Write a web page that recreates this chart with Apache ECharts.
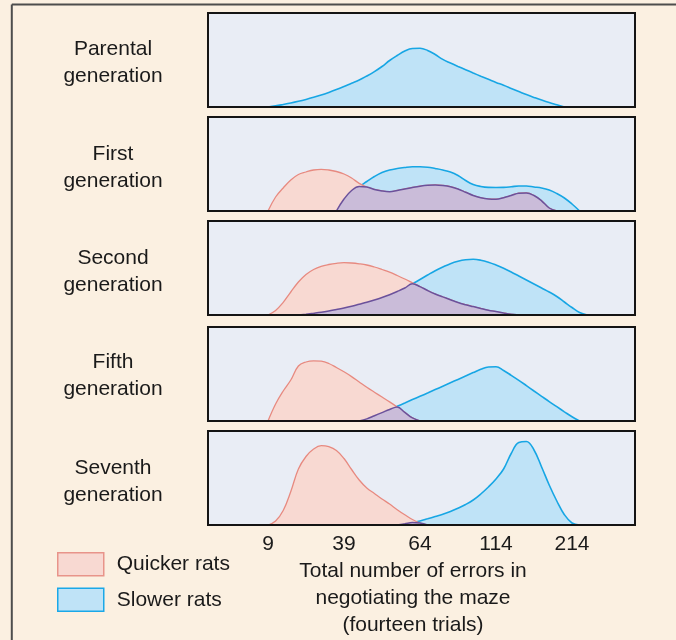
<!DOCTYPE html>
<html><head><meta charset="utf-8">
<script src="https://cdn.jsdelivr.net/npm/echarts@6/dist/echarts.min.js"></script>
<style>html,body{margin:0;padding:0;background:#fbf0e1;}#c{width:676px;height:640px;}</style>
</head><body><div id="c"></div>
<script>
const _ = null;
// x-axis tick labels (total errors) and their positions on the (non-linear) axis scale
const tickLabels = ['9', '39', '64', '114', '214'];
const tickPos = [0, 1, 2, 3, 4];
// sample positions along the error scale (in tick-index units)
const samplePos = [0,0.1,0.2,0.3,0.4,0.5,0.6,0.7,0.8,0.9,1.0,1.1,1.2,1.3,1.4,1.5,1.6,1.7,1.8,1.9,2.0,2.1,2.2,2.3,2.4,2.5,2.6,2.7,2.8,2.9,3.0,3.1,3.2,3.3,3.4,3.5,3.6,3.7,3.8,3.9,4.0,4.1,4.2];
const generationLabels = ['Parental\ngeneration', 'First\ngeneration', 'Second\ngeneration', 'Fifth\ngeneration', 'Seventh\ngeneration'];
const seriesNames = ['Quicker rats', 'Slower rats'];
const axisTitle = 'Total number of errors in\nnegotiating the maze\n(fourteen trials)';

// relative frequencies
const parentalSlower = [0,1.1,2.5,4,5.7,7.6,9.7,12,14.6,17.4, 20.5,23.8,27,31,35.4,40.5,46.5,51.5,56,58.5, 58.7,56.6,52.5,47.6,44,40.6,37.3,34,30.8,27.7, 24.6,21.7,18.6,15.5,12.4,9.6,6.9,4.4,2.2,0, _,_,_];
const firstQuicker = [0,14,23,31,36.5,39,41,41.7,41,39.5, 37,33,27.6,24,21.5,20,19.3,20.5,22,23.5, 24.8,25.7,26,25.5,24.3,22,18.8,15.5,13.2,12, 11.8,13.3,15.5,17.8,18,15.5,10.2,3,0,_, _,_,_];
const firstSlower = [_,_,_,_,_,_,_,_,_, 0,12,20.5,24.5,29.5,34.5,38.5,41,42.5,43.5, 44.2,44.3,43.8,42.5,41,39,35.5,30.5,26.5,24.5, 23.6,23.5,23.6,24.2,25,25,24,23,21,17.5, 13,7,0,_];
const secondQuicker = [0,4.5,12.6,23,33,40.5,45.5,48.7,50.5,51.7, 52.3,52,51.2,50,48,45.5,42.8,39.5,36,32.2, 28.4,24.5,21,18.1,15.3,12.5,10.3,8.4,6.5,4.7, 3.4,2,0.7,0, _,_,_,_,_,_,_,_,_];
const secondSlower = [_,_,_,_, 0,0.8,1.7,2.7,4,5.5, 7,8.7,10.7,12.7,15,17.5,20.3,23.5,27,31.2, 35.5,40,44.3,48,51.3,53.7,55.2,55.7,54.8,52.8, 50,46.7,43,39,35,31,27,23,18.5,13, 7.5,2.5,0];
const fifthQuicker = [0,17,30,41,55,59,60.2,59.8,57.5,53.5, 49.2,44.4,39,33.7,28.8,24,19.1,14,8.6,3.1, 0, _,_,_,_,_,_,_,_,_,_,_,_,_,_,_,_,_,_,_,_,_,_];
const fifthSlower = [_,_,_,_,_,_,_,_,_,_,_,_, 0,2.1,5.3,8.4,11.5,14.7,18,21.4,24.7,28, 31.4,34.8,38.2,41.6,45,48.4,51.7,54,54.2,50.5, 45.7,40.7,35.4,30,24.7,19.4,14.3,9.2,4.2,0, _];
const seventhQuicker = [0,4,14.5,33.5,56,68.5,76,79.3,78.3,74.5, 66.5,55.5,45,37,31.5,26,21,15.3,10.2,5.5, 2,0,_, _,_,_,_,_,_,_,_,_,_,_,_,_,_,_,_,_,_,_,_];
const seventhSlower = [_,_,_,_,_,_,_,_,_,_,_,_,_,_,_,_,_, 0,1.2,2.5, 4,6.2,8.5,10.8,13.5,16.8,20.5,25,31,38, 46,56,71.5,82.5,83.5,75,58,40,24,10.3, 2,0,_];

const quickerByPanel = [_, firstQuicker, secondQuicker, fifthQuicker, seventhQuicker];
const slowerByPanel = [parentalSlower, firstSlower, secondSlower, fifthSlower, seventhSlower];

const FONT = '"Liberation Sans", Arial, Helvetica, sans-serif';
const TEXT = '#1a1a1a';
const COL = {
  qFill: '#f8d9d2', qLine: '#e78a80',
  sFill: '#bfe3f7', sLine: '#17a6e4',
  oFill: '#cabcd9', oLine: '#6b519b'
};
const tops = [13, 117, 221, 327, 431];
const labelCenters = [62.8, 167.5, 271.5, 375.5, 481.5];

function toPairs(vals) {
  return samplePos.map((x, i) => [x, vals[i]]).filter(d => d[1] !== null && d[1] !== undefined);
}
function overlapOf(a, b) {
  return a.map((v, i) => (v === null || b[i] === null) ? null : Math.min(v, b[i]));
}

const grid = [], xAxis = [], yAxis = [], series = [];
tops.forEach((t, i) => {
  grid.push({left: 208, right: 41, top: t, height: 94, show: true,
    backgroundColor: '#e9edf5', borderColor: '#141414', borderWidth: 2});
  xAxis.push({gridIndex: i, type: 'value', min: -60 / 76, max: 4 + 63 / 76, z: 10,
    splitLine: {show: false}, axisTick: {show: false},
    axisLine: {show: true, onZero: false, lineStyle: {color: '#141414', width: 2}},
    axisLabel: {show: i === 4, customValues: tickPos,
      formatter: v => { const k = tickPos.indexOf(Math.round(v)); return k >= 0 ? tickLabels[k] : ''; },
      fontSize: 21, color: TEXT, fontFamily: FONT, margin: 9}});
  yAxis.push({gridIndex: i, type: 'value', min: 0, max: 94, show: false});
  const common = {type: 'line', xAxisIndex: i, yAxisIndex: i, smooth: 0.4, symbol: 'none',
    showSymbol: false, silent: true, animation: false};
  const s = slowerByPanel[i], q = quickerByPanel[i];
  if (s) series.push(Object.assign({}, common, {name: seriesNames[1], data: toPairs(s),
    lineStyle: {color: COL.sLine, width: 1.6}, itemStyle: {color: COL.sFill},
    areaStyle: {color: COL.sFill, opacity: 1}, z: 2}));
  if (q) series.push(Object.assign({}, common, {name: seriesNames[0], data: toPairs(q),
    lineStyle: {color: COL.qLine, width: 1.3}, itemStyle: {color: COL.qFill},
    areaStyle: {color: COL.qFill, opacity: 1}, z: 3}));
  if (s && q) series.push(Object.assign({}, common, {name: 'Overlap', data: toPairs(overlapOf(q, s)),
    lineStyle: {color: COL.oLine, width: 1.5}, itemStyle: {color: COL.oFill},
    areaStyle: {color: COL.oFill, opacity: 1}, z: 4}));
});

const graphic = [
  {type: 'line', shape: {x1: 11.8, y1: 4.6, x2: 676, y2: 4.6}, style: {stroke: '#4d4d4d', lineWidth: 2}},
  {type: 'line', shape: {x1: 11.8, y1: 4.6, x2: 11.8, y2: 640}, style: {stroke: '#4d4d4d', lineWidth: 2}},
  {type: 'text', x: 413, y: 598.7, style: {text: axisTitle, fill: TEXT, fontSize: 21, fontFamily: FONT,
    lineHeight: 27, align: 'center', verticalAlign: 'middle'}}
];
generationLabels.forEach((lab, i) => {
  graphic.push({type: 'text', x: 113, y: labelCenters[i], style: {text: lab, fill: TEXT, fontSize: 21,
    fontFamily: FONT, lineHeight: 27, align: 'center', verticalAlign: 'middle'}});
});

const chart = echarts.init(document.getElementById('c'), null, {renderer: 'canvas'});
chart.setOption({
  backgroundColor: '#fbf0e1',
  animation: false,
  grid, xAxis, yAxis, series, graphic,
  legend: {orient: 'vertical', left: 57, top: 552, padding: 0, itemWidth: 46, itemHeight: 23, itemGap: 11,
    icon: 'rect', selectedMode: false,
    textStyle: {fontSize: 21, color: TEXT, fontFamily: FONT, padding: [0, 0, 0, 8]},
    data: [
      {name: seriesNames[0], itemStyle: {color: COL.qFill, borderColor: '#e8948a', borderWidth: 1.5}},
      {name: seriesNames[1], itemStyle: {color: COL.sFill, borderColor: '#1aa8e8', borderWidth: 1.5}}
    ]}
});
</script></body></html>
